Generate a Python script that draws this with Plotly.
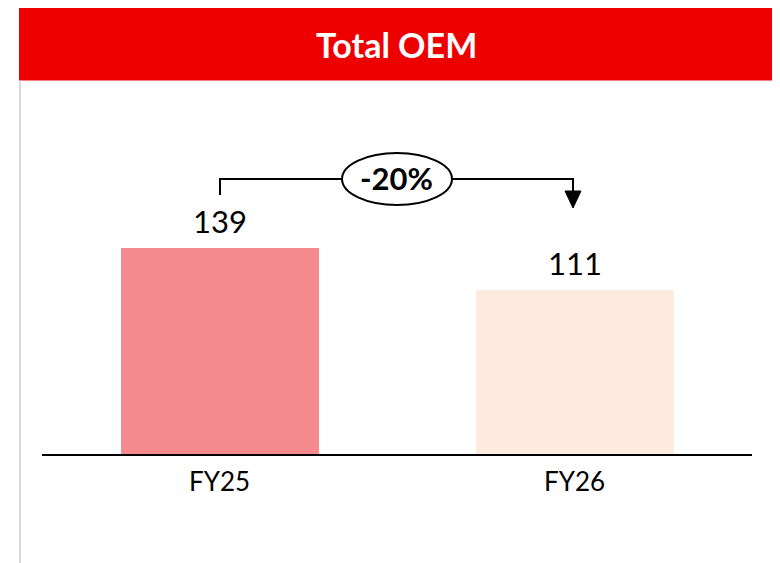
import plotly.graph_objects as go

# ---- data ----
categories = ["FY25", "FY26"]
values = [139, 111]
bar_colors = ["#F48A8D", "#FDEBE0"]
title_text = "Total OEM"
change_label = "-20%"

OFF = 8                 # page body margin offset
W, H = 780 - OFF, 563 - OFF
L, R = 42 - OFF, 752 - OFF      # plot area x in figure px
TOP, BOT = 80 - OFF, 454 - OFF  # plot area y in figure px
px_per_unit = 206 / 139
y_max = (BOT - TOP) / px_per_unit

def xp(px):  # px in reference (page) coords
    return (px - OFF - L) / (R - L)

def yp(py):
    return (BOT - (py - OFF)) / (BOT - TOP)

fig = go.Figure()
fig.add_trace(go.Bar(
    x=categories, y=values, marker=dict(color=bar_colors, line=dict(width=0)),
    width=198 / 355, hoverinfo="skip", showlegend=False,
))

# value labels
for c, v in zip(categories, values):
    fig.add_annotation(x=c, y=v, xref="x", yref="y", text=str(v), showarrow=False,
                       yanchor="bottom", yshift=6,
                       font=dict(family="Lato", size=31, color="#000000"))

shapes = []
# header band
shapes.append(dict(type="rect", xref="paper", yref="paper", x0=xp(19), x1=xp(775),
                   y0=yp(80.5), y1=yp(5), fillcolor="#EE0000", line=dict(width=0), layer="below"))
# side borders
shapes.append(dict(type="line", xref="paper", yref="paper", x0=xp(20), x1=xp(20),
                   y0=yp(80.5), y1=yp(563), line=dict(color="#D9D9D9", width=2)))
shapes.append(dict(type="line", xref="paper", yref="paper", x0=xp(774), x1=xp(774),
                   y0=yp(80.5), y1=yp(553), line=dict(color="#D9D9D9", width=2)))

# bracket
def P(px, py):
    return f"{xp(px):.5f},{yp(py):.5f}"

shapes.append(dict(type="path", xref="paper", yref="paper",
                   path=f"M {P(220,195)} L {P(220,179)} L {P(397,179)}",
                   line=dict(color="#000000", width=2)))
shapes.append(dict(type="path", xref="paper", yref="paper",
                   path=f"M {P(397,179)} L {P(573,179)} L {P(573,194)}",
                   line=dict(color="#000000", width=2)))
# arrow head
shapes.append(dict(type="path", xref="paper", yref="paper",
                   path=f"M {P(565,191)} L {P(581,191)} L {P(573,208)} Z",
                   fillcolor="#000000", line=dict(color="#000000", width=1)))
# ellipse
shapes.append(dict(type="circle", xref="paper", yref="paper", x0=xp(342), x1=xp(452),
                   y0=yp(205), y1=yp(153), fillcolor="#FFFFFF",
                   line=dict(color="#000000", width=2)))

fig.add_annotation(x=xp(396), y=yp(178), xref="paper", yref="paper", text=f"<b>{change_label}</b>",
                   showarrow=False, xanchor="center", yanchor="middle",
                   font=dict(family="Lato", size=31, color="#000000"))
fig.add_annotation(x=xp(396), y=yp(44), xref="paper", yref="paper", text=f"<b>{title_text}</b>",
                   showarrow=False, xanchor="center", yanchor="middle",
                   font=dict(family="Lato", size=34, color="#FFFFFF"))

fig.update_layout(
    width=W, height=H,
    margin=dict(l=L, r=W - R, t=TOP, b=H - BOT, pad=0),
    paper_bgcolor="#FFFFFF", plot_bgcolor="#FFFFFF",
    shapes=shapes, bargap=0,
    xaxis=dict(type="category", range=[-0.5, 1.5], showgrid=False, zeroline=False,
               showline=True, linecolor="#000000", linewidth=2, ticks="",
               ticklabelstandoff=4,
               tickfont=dict(family="Lato", size=26, color="#000000"), fixedrange=True),
    yaxis=dict(range=[0, y_max], visible=False, fixedrange=True),
)

fig.write_html("out.html")
